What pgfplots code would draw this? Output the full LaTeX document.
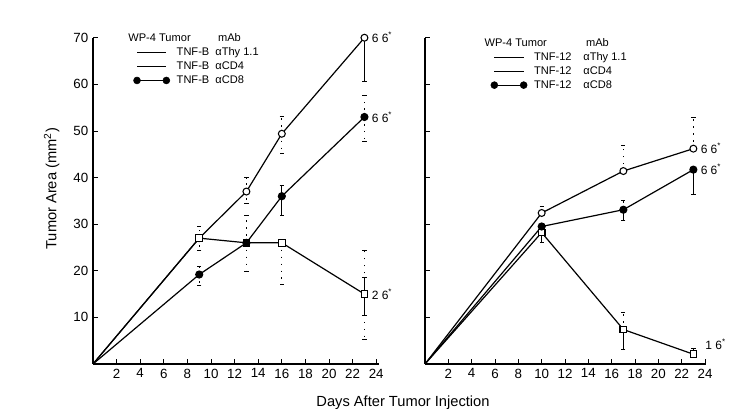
\documentclass[border=0pt]{standalone}
\usepackage{pgfplots}
\pgfplotsset{compat=1.18}
\usepackage{fontspec}
\setmainfont{Liberation Sans}

\pgfplotsset{
  panel/.style={
    scale only axis, axis lines=left,
    axis line style={-, line width=0.85pt},
    xmin=0, ymin=0, ymax=70, height=244.7pt,
    xtick={2,4,...,24}, ytick={10,20,...,70},
    tick align=inside, major tick length=4pt,
    tick style={black, line width=0.6pt},
    tick label style={font=\fontsize{10}{12}\selectfont},
    /pgf/number format/assume math mode=true,
    clip=false,
    legend cell align=left,
    legend style={draw=none, fill=none, inner sep=0pt, anchor=north west,
      font=\fontsize{8.3}{10}\selectfont, row sep=0pt, column sep=4pt,
      nodes={inner sep=1pt, text height=6.5pt, text depth=2pt}},
  },
  ln/.style={black, line width=0.9pt},
  oc/.style={ln, mark=*, mark size=2.6pt, mark options={fill=white, solid, line width=0.8pt}},
  sq/.style={ln, mark=square*, mark size=2.5pt, mark options={fill=white, solid, line width=0.8pt}},
  fc/.style={ln, mark=*, mark size=2.6pt, mark options={fill=black, solid}},
  ebdot/.style={only marks, mark=none, forget plot,
    error bars/.cd, y dir=both, y explicit,
    error bar style={black, line width=0.7pt, dash pattern=on 1.2pt off 4pt},
    error mark options={black, rotate=90, mark size=1.6pt, solid}},
  ebsol/.style={only marks, mark=none, forget plot,
    error bars/.cd, y dir=both, y explicit,
    error bar style={black, line width=0.6pt},
    error mark options={black, rotate=90, mark size=1.6pt}},
  legline/.style={legend image code/.code={\draw[black, line width=0.9pt] (0pt,0pt) -- (22pt,0pt);}},
  legdots/.style={legend image code/.code={\draw[black, line width=0.9pt] (0pt,0pt) -- (22pt,0pt);
      \fill[black] (0pt,0pt) circle (2.6pt); \fill[black] (22pt,0pt) circle (2.6pt);}},
}

\begin{document}
\begin{tikzpicture}
\useasboundingbox (0pt,0pt) rectangle (562.5pt,-312pt);

% left panel: TNF-B
\begin{axis}[panel, at={(69.75pt,-273pt)}, anchor=south west,
  width=214.2pt, xmax=24.2,
  ylabel={Tumor Area (mm\textsuperscript{2})},
  ylabel style={at={(axis description cs:-0.145,0.537)}, anchor=center, font=\fontsize{11}{13}\selectfont},
  legend style={at={(axis cs:3.39,68.4)}}]
\addlegendimage{legline}
\addlegendentry{\makebox[29pt][l]{TNF-B}αThy 1.1}
\addlegendimage{legline}
\addlegendentry{\makebox[29pt][l]{TNF-B}αCD4}
\addlegendimage{legdots}
\addlegendentry{\makebox[29pt][l]{TNF-B}αCD8}

\addplot[ebdot] coordinates {
  (9,27) += (0,2.5) -= (0,2.5)
  (13,37) += (0,3) -= (0,2.5)
  (16,49.4) += (0,3.7) -= (0,4.2)
  (13,26) += (0,6) -= (0,6)
  (9,19.2) += (0,1.8) -= (0,2.4)
  (23,53) += (0,4.7) -= (0,5.3)
  (23,15) += (0,9.5) -= (0,9.8)
  (16,26) += (0,0) -= (0,9)
};
\addplot[ebsol] coordinates {
  (23,70) += (0,0) -= (0,9.4)
  (16,36) += (0,2.4) -= (0,4)
  (23,15) += (0,3.7) -= (0,4.5)
};
\addplot[oc, mark indices={2,3,4,5}, forget plot] coordinates {(0,0) (9,27) (13,37) (16,49.4) (23,70)};
\addplot[sq, mark indices={2,3,4,5}, forget plot] coordinates {(0,0) (9,27) (13,26) (16,26) (23,15)};
\addplot[fc, mark indices={2,3,4,5}, forget plot] coordinates {(0,0) (9,19.2) (13,26) (16,36) (23,53)};

\node[anchor=west, font=\fontsize{8.3}{10}\selectfont] at (axis cs:2.6,70) {WP-4 Tumor};
\node[anchor=west, font=\fontsize{8.3}{10}\selectfont] at (axis cs:10.2,70) {mAb};
\node[anchor=west, font=\fontsize{9}{11}\selectfont, xshift=2pt] at (axis cs:23,70) {6 6\textsuperscript{*}};
\node[anchor=west, font=\fontsize{9}{11}\selectfont, xshift=2pt] at (axis cs:23,53) {6 6\textsuperscript{*}};
\node[anchor=west, font=\fontsize{9}{11}\selectfont, xshift=2pt] at (axis cs:23,15) {2 6\textsuperscript{*}};
\end{axis}

% right panel: TNF-12
\begin{axis}[panel, at={(318.75pt,-273pt)}, anchor=south west,
  width=210.9pt, xmax=24.1, yticklabels={},
  legend style={at={(axis cs:5.6,67.4)}}]
\addlegendimage{legline}
\addlegendentry{\makebox[37pt][l]{TNF-12}αThy 1.1}
\addlegendimage{legline}
\addlegendentry{\makebox[37pt][l]{TNF-12}αCD4}
\addlegendimage{legdots}
\addlegendentry{\makebox[37pt][l]{TNF-12}αCD8}

\addplot[ebdot] coordinates {
  (10,32.4) += (0,1.4) -= (0,0)
  (17,41.4) += (0,5.6) -= (0,0)
  (23,46.2) += (0,6.8) -= (0,0)
  (17,33.1) += (0,2) -= (0,0)
  (17,7.4) += (0,3.8) -= (0,0)
};
\addplot[ebsol] coordinates {
  (23,41.7) += (0,0) -= (0,5.3)
  (17,33.1) += (0,0) -= (0,2.3)
  (17,7.4) += (0,0) -= (0,4.2)
  (10,28.2) += (0,0) -= (0,2)
  (23,2.1) += (0,1.3) -= (0,0)
};
\addplot[oc, mark indices={2,3,4}, forget plot] coordinates {(0,0) (10,32.4) (17,41.4) (23,46.2)};
\addplot[sq, mark indices={2,3,4}, forget plot] coordinates {(0,0) (10,28.2) (17,7.4) (23,2.1)};
\addplot[fc, mark indices={2,3,4}, forget plot] coordinates {(0,0) (10,29.5) (17,33.1) (23,41.7)};

\node[anchor=west, font=\fontsize{8.3}{10}\selectfont] at (axis cs:4.7,69) {WP-4 Tumor};
\node[anchor=west, font=\fontsize{8.3}{10}\selectfont] at (axis cs:13.4,69) {mAb};
\node[anchor=west, font=\fontsize{9}{11}\selectfont, xshift=2pt] at (axis cs:23,46.2) {6 6\textsuperscript{*}};
\node[anchor=west, font=\fontsize{9}{11}\selectfont, xshift=2pt] at (axis cs:23,41.7) {6 6\textsuperscript{*}};
\node[anchor=west, font=\fontsize{9}{11}\selectfont, xshift=2pt] at (axis cs:23.4,4.2) {1 6\textsuperscript{*}};
\end{axis}

\node[font=\fontsize{11}{13}\selectfont] at (302.25pt,-302.25pt) {Days After Tumor Injection};
\end{tikzpicture}
\end{document}
